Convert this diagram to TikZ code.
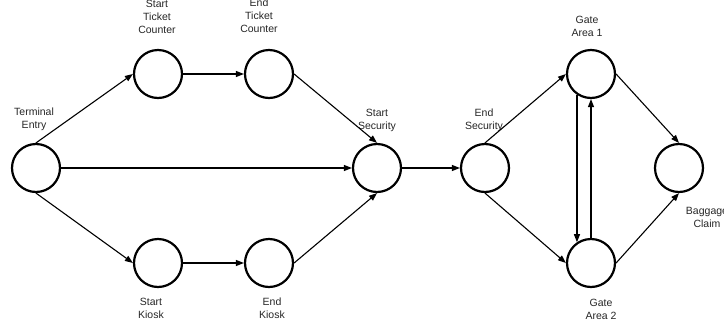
\documentclass[tikz,border=0pt]{standalone}
\usepackage{fontspec}
\setmainfont{Liberation Sans}
\usetikzlibrary{arrows.meta}

\begin{document}
\begin{tikzpicture}[x=1pt,y=-1pt,>={Triangle[length=8pt,width=6pt]},
  stage/.style={circle,draw,line width=2.2pt,minimum size=48pt,inner sep=0pt},
  lbl/.style={align=center,inner sep=0pt,font=\fontsize{10.5}{13}\selectfont,text=black!85},
  flow/.style={->,line width=1.1pt}]
  \useasboundingbox (0,0) rectangle (724,330);

  % stages
  \node[stage] (te) at (36,168) {};
  \node[stage] (stc) at (158,74) {};
  \node[stage] (etc) at (269,74) {};
  \node[stage] (sk) at (158,263) {};
  \node[stage] (ek) at (269,263) {};
  \node[stage] (ss) at (377,168) {};
  \node[stage] (es) at (485,168) {};
  \node[stage] (ga1) at (591,74) {};
  \node[stage] (ga2) at (591,263) {};
  \node[stage] (bc) at (679,168) {};

  % labels
  \node[lbl] (te-l) at (34,119) {Terminal\\Entry};
  \node[lbl] (stc-l) at (157,17) {Start\\Ticket\\Counter};
  \node[lbl] (etc-l) at (259,16) {End\\Ticket\\Counter};
  \node[lbl] (sk-l) at (151,308) {Start\\Kiosk};
  \node[lbl] (ek-l) at (272,308) {End\\Kiosk};
  \node[lbl] (ss-l) at (377,120) {Start\\Security};
  \node[lbl] (es-l) at (484,120) {End\\Security};
  \node[lbl] (ga1-l) at (587,26) {Gate\\Area 1};
  \node[lbl] (ga2-l) at (601,309) {Gate\\Area 2};
  \node[lbl] (bc-l) at (707,217) {Baggage\\Claim};

  % flows
  \draw[flow] (te.north) -- (stc.west);
  \draw[flow] (te.east) -- (ss.west);
  \draw[flow] (te.south) -- (sk.west);
  \draw[flow] (stc.east) -- (etc.west);
  \draw[flow] (sk.east) -- (ek.west);
  \draw[flow] (etc.east) -- (ss.north);
  \draw[flow] (ek.east) -- (ss.south);
  \draw[flow] (ss.east) -- (es.west);
  \draw[flow] (es.north) -- (ga1.west);
  \draw[flow] (es.south) -- (ga2.west);
  \draw[flow] (ga1.-124) -- (ga2.124);
  \draw[flow] (ga2.north) -- (ga1.south);
  \draw[flow] (ga1.east) -- (bc.north);
  \draw[flow] (ga2.east) -- (bc.south);
\end{tikzpicture}
\end{document}
